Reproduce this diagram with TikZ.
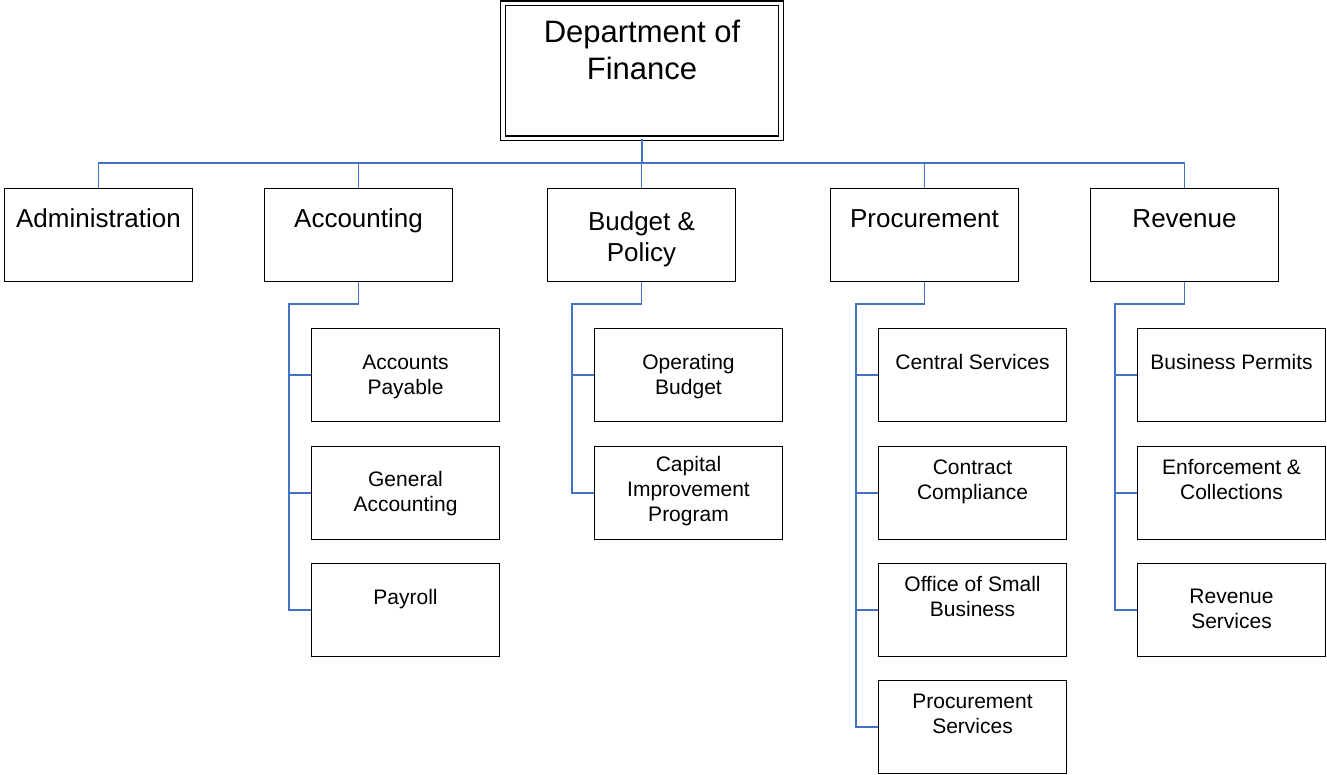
\documentclass[tikz,border=0pt]{standalone}
\usepackage{fontspec}
\setmainfont{Liberation Sans}
\definecolor{linkblue}{RGB}{68,114,196}
\newcommand\kstrut{\rule{0pt}{20pt}}
\newcommand\lstrut{\rule{0pt}{24pt}}
\newcommand\tstrut{\rule{0pt}{28pt}}
\begin{document}
\begin{tikzpicture}[x=1pt,y=-1pt,
  topbox/.style={draw, double, line width=1.2pt, double distance=3.6pt, minimum width=278pt, minimum height=135pt, inner sep=0pt},
  lvlbox/.style={draw, line width=1.3pt, minimum width=188pt, minimum height=93pt, inner sep=0pt},
  kidbox/.style={draw, line width=1.3pt, minimum width=188pt, minimum height=93pt, inner sep=0pt},
  ttxt/.style={anchor=north, inner sep=0pt, align=center, font=\fontsize{31}{37}\selectfont},
  ltxt/.style={anchor=north, inner sep=0pt, align=center, font=\fontsize{26}{31}\selectfont},
  ktxt/.style={anchor=north, inner sep=0pt, align=center, font=\fontsize{21}{25}\selectfont},
  conn/.style={draw=linkblue, line width=1.8pt}]
\useasboundingbox (0,0) rectangle (1327,775);

% top
\node[topbox, label={[ttxt, yshift=-11.5pt]north:{\tstrut Department of\\Finance}}] (top) at (642,71) {};

% level 1
\node[lvlbox, label={[ltxt, yshift=-15pt]north:{\lstrut Administration}}] (adm) at (98.5,235) {};
\node[lvlbox, label={[ltxt, yshift=-15pt]north:{\lstrut Accounting}}] (acc) at (358.5,235) {};
\node[lvlbox, label={[ltxt, yshift=-18pt]north:{\lstrut Budget \&\\Policy}}] (bud) at (641.5,235) {};
\node[lvlbox, label={[ltxt, yshift=-15pt]north:{\lstrut Procurement}}] (pro) at (924.5,235) {};
\node[lvlbox, label={[ltxt, yshift=-15pt]north:{\lstrut Revenue}}] (rev) at (1184.5,235) {};

% accounting kids
\node[kidbox, label={[ktxt, yshift=-21.5pt]north:{\kstrut Accounts\\Payable}}] (ap) at (405.5,375) {};
\node[kidbox, label={[ktxt, yshift=-20.5pt]north:{\kstrut General\\Accounting}}] (ga) at (405.5,493) {};
\node[kidbox, label={[ktxt, yshift=-21.5pt]north:{\kstrut Payroll}}] (pay) at (405.5,610) {};

% budget kids
\node[kidbox, label={[ktxt, yshift=-21.5pt]north:{\kstrut Operating\\Budget}}] (ob) at (688.5,375) {};
\node[kidbox, label={[ktxt, yshift=-5.5pt]north:{\kstrut Capital\\Improvement\\Program}}] (cip) at (688.5,493) {};

% procurement kids
\node[kidbox, label={[ktxt, yshift=-21.5pt]north:{\kstrut Central Services}}] (cs) at (972.5,375) {};
\node[kidbox, label={[ktxt, yshift=-8.5pt]north:{\kstrut Contract\\Compliance}}] (cc) at (972.5,493) {};
\node[kidbox, label={[ktxt, yshift=-8.5pt]north:{\kstrut Office of Small\\Business}}] (osb) at (972.5,610) {};
\node[kidbox, label={[ktxt, yshift=-8pt]north:{\kstrut Procurement\\Services}}] (ps) at (972.5,727) {};

% revenue kids
\node[kidbox, label={[ktxt, yshift=-21.5pt]north:{\kstrut Business Permits}}] (bp) at (1231.5,375) {};
\node[kidbox, label={[ktxt, yshift=-8.5pt]north:{\kstrut Enforcement \&\\Collections}}] (ec) at (1231.5,493) {};
\node[kidbox, label={[ktxt, yshift=-20.5pt]north:{\kstrut Revenue\\Services}}] (rs) at (1231.5,610) {};

% bend points
\coordinate (accb) at (289,304);
\coordinate (budb) at (572,304);
\coordinate (prob) at (856,304);
\coordinate (revb) at (1115,304);

% connectors top -> level 1
\foreach \n in {adm,acc,bud,pro,rev}
  \draw[conn] (top.south) -- ++(0,24) -| (\n.north);

% connectors level 1 -> kids
\foreach \k in {ap,ga,pay}
  \draw[conn] (acc.south) |- (accb) |- (\k.west);
\foreach \k in {ob,cip}
  \draw[conn] (bud.south) |- (budb) |- (\k.west);
\foreach \k in {cs,cc,osb,ps}
  \draw[conn] (pro.south) |- (prob) |- (\k.west);
\foreach \k in {bp,ec,rs}
  \draw[conn] (rev.south) |- (revb) |- (\k.west);
\end{tikzpicture}
\end{document}
